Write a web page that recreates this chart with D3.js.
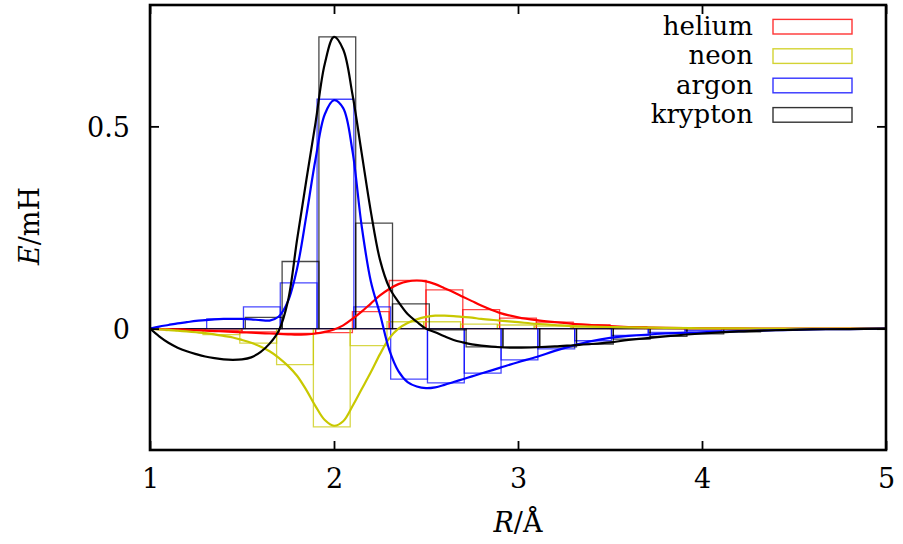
<!DOCTYPE html>
<html>
<head>
<meta charset="utf-8">
<script src="https://cdn.jsdelivr.net/npm/d3@7"></script>
<style>
  body { margin: 0; background: #fff; }
  svg text { font-family: "DejaVu Serif", serif; fill: #000; }
</style>
</head>
<body>
<svg id="chart" width="903" height="544"></svg>
<script>
// Separation R (Å) at which the smooth interaction curves are sampled
const radii = [1.00, 1.05, 1.10, 1.15, 1.20, 1.25, 1.30, 1.35, 1.40, 1.45,
               1.50, 1.55, 1.60, 1.65, 1.70, 1.75, 1.80, 1.85, 1.90, 1.95,
               2.00, 2.05, 2.10, 2.15, 2.20, 2.25, 2.30, 2.35, 2.40, 2.45,
               2.50, 2.55, 2.60, 2.65, 2.70, 2.75, 2.80, 2.90, 3.00, 3.10,
               3.20, 3.30, 3.40, 3.50, 3.60, 3.80, 4.00, 4.20, 4.40, 4.60,
               4.80, 5.00];

// Interaction energy E (mH) on the radii above
const heliumCurve = [0, -0.001, -0.002, -0.002, -0.003, -0.004, -0.005, -0.006, -0.007, -0.008,
                     -0.009, -0.010, -0.011, -0.012, -0.013, -0.014, -0.015, -0.014, -0.012, -0.008,
                     -0.002, 0.008, 0.024, 0.042, 0.062, 0.082, 0.098, 0.110, 0.117, 0.119,
                     0.117, 0.110, 0.100, 0.090, 0.079, 0.068, 0.057, 0.039, 0.028, 0.021,
                     0.016, 0.012, 0.009, 0.006, 0.004, 0.002, 0.001, 0.0005, 0, 0,
                     0, 0];
const neonCurve = [0, -0.002, -0.003, -0.005, -0.007, -0.009, -0.011, -0.014, -0.018, -0.022,
                   -0.028, -0.035, -0.044, -0.056, -0.072, -0.092, -0.117, -0.152, -0.192, -0.226,
                   -0.240, -0.229, -0.192, -0.150, -0.108, -0.063, -0.024, 0.000, 0.014, 0.023,
                   0.029, 0.032, 0.032, 0.031, 0.029, 0.027, 0.024, 0.020, 0.016, 0.012,
                   0.009, 0.006, 0.005, 0.004, 0.003, 0.002, 0.001, 0.0005, 0, 0,
                   0, 0];
const argonCurve = [0, 0.005, 0.009, 0.013, 0.016, 0.019, 0.021, 0.023, 0.024, 0.024,
                    0.024, 0.023, 0.021, 0.020, 0.030, 0.068, 0.150, 0.280, 0.420, 0.530,
                    0.565, 0.545, 0.440, 0.255, 0.117, 0.036, -0.052, -0.105, -0.132, -0.143,
                    -0.147, -0.145, -0.139, -0.132, -0.125, -0.118, -0.111, -0.097, -0.083, -0.070,
                    -0.055, -0.042, -0.031, -0.023, -0.018, -0.012, -0.009, -0.006, -0.004, -0.002,
                    -0.001, 0];
const kryptonCurve = [0, -0.019, -0.035, -0.047, -0.056, -0.063, -0.069, -0.073, -0.076, -0.077,
                      -0.076, -0.071, -0.058, -0.037, -0.005, 0.069, 0.222, 0.368, 0.510, 0.655,
                      0.721, 0.690, 0.580, 0.435, 0.290, 0.170, 0.102, 0.066, 0.036, 0.017,
                      0.000, -0.009, -0.019, -0.028, -0.034, -0.039, -0.042, -0.046, -0.047, -0.046,
                      -0.044, -0.041, -0.038, -0.034, -0.028, -0.019, -0.012, -0.007, -0.004, -0.002,
                      -0.001, 0];

// Histogram bins of width 0.2 Å, given by their centres
const binCentres = [1.2, 1.4, 1.6, 1.8, 2.0, 2.2, 2.4, 2.6, 2.8, 3.0,
                    3.2, 3.4, 3.6, 3.8, 4.0, 4.2, 4.4, 4.6, 4.8];
const binWidth = 0.2;
const heliumBins = [-0.002, -0.004, -0.008, -0.012, -0.010, 0.042, 0.119, 0.096, 0.047, 0.026,
                    0.016, 0.010, 0.005, 0.002, 0.001, 0, 0, 0, 0];
const neonBins = [-0.005, -0.015, -0.036, -0.089, -0.243, -0.042, 0.017, 0.017, 0.011, 0.009,
                  0.006, 0.004, 0.002, 0.001, 0, 0, 0, 0, 0];
const argonBins = [0, 0.024, 0.054, 0.113, 0.567, 0.054, -0.125, -0.134, -0.110, -0.077,
                   -0.050, -0.030, -0.017, -0.009, -0.005, -0.002, -0.001, 0, 0];
const kryptonBins = [0, 0, 0.028, 0.166, 0.721, 0.261, 0.061, -0.003, -0.045, -0.046,
                     -0.045, -0.038, -0.026, -0.019, -0.013, -0.008, -0.004, -0.002, -0.001];

const seriesNames = ["helium", "neon", "argon", "krypton"];
const seriesColours = ["#ff0000", "#c8c800", "#0000ff", "#000000"];
const binShift = [0, -0.012, 0.008, 0.018];   // small horizontal shift of each histogram (Å)

const xTicks = [1, 2, 3, 4, 5];
const yTicks = [0, 0.5];

const curves = [heliumCurve, neonCurve, argonCurve, kryptonCurve];
const bins = [heliumBins, neonBins, argonBins, kryptonBins];

// ---------- layout ----------
const serif = "'DejaVu Serif', serif";
const svg = d3.select("#chart");
const plotLeft = 150, plotRight = 886, plotTop = 5, plotBottom = 450;

const x = d3.scaleLinear().domain([1, 5]).range([plotLeft, plotRight]);
const y = d3.scaleLinear().domain([-0.3, 0.8]).range([plotBottom, plotTop]);

const plot = svg.append("g");
plot.append("clipPath").attr("id", "clip")
  .append("rect").attr("x", plotLeft).attr("y", plotTop)
  .attr("width", plotRight - plotLeft).attr("height", plotBottom - plotTop);
const inner = plot.append("g").attr("clip-path", "url(#clip)");

// ---------- histograms ----------
seriesNames.forEach((name, i) => {
  const shift = binShift[i];
  inner.append("g")
    .selectAll("path")
    .data(binCentres.map((c, k) => ({ c, v: bins[i][k] })))
    .join("path")
    .attr("d", d => {
      const x0 = x(d.c - binWidth / 2 + shift), x1 = x(d.c + binWidth / 2 + shift);
      const y0 = y(0), y1 = y(d.v);
      return `M${x0},${y0}V${y1}H${x1}V${y0}Z`;
    })
    .attr("fill", "none")
    .attr("stroke", seriesColours[i])
    .attr("stroke-opacity", 0.72)
    .attr("stroke-width", 1.3);
});

// ---------- smooth curves ----------
const line = d3.line()
  .x(d => x(d[0]))
  .y(d => y(d[1]))
  .curve(d3.curveCatmullRom.alpha(0.5));

seriesNames.forEach((name, i) => {
  inner.append("path")
    .datum(radii.map((r, k) => [r, curves[i][k]]))
    .attr("d", line)
    .attr("fill", "none")
    .attr("stroke", seriesColours[i])
    .attr("stroke-width", 2.2)
    .attr("stroke-linejoin", "round");
});

// ---------- axes (ticks on all four sides, pointing inwards) ----------
const tickLen = 9;
const fontSize = 27;
const axisBottom = d3.axisBottom(x).tickValues(xTicks).tickSize(-tickLen).tickFormat(d3.format("d"));
const axisTop = d3.axisTop(x).tickValues(xTicks).tickSize(-tickLen).tickFormat("");
const axisLeft = d3.axisLeft(y).tickValues(yTicks).tickSize(-tickLen).tickFormat(d => d === 0 ? "0" : d3.format(".1f")(d));
const axisRight = d3.axisRight(y).tickValues(yTicks).tickSize(-tickLen).tickFormat("");

function styleAxis(g) {
  g.attr("font-family", serif);
  g.select(".domain").remove();
  g.selectAll(".tick line").attr("stroke", "#000").attr("stroke-width", 1.8);
  g.selectAll(".tick text").attr("font-size", fontSize).style("font-family", serif).attr("fill", "#000");
}

plot.append("g").attr("transform", `translate(0,${plotBottom})`).call(axisBottom).call(styleAxis)
  .selectAll(".tick text").attr("dy", null).attr("y", 38);
plot.append("g").attr("transform", `translate(0,${plotTop})`).call(axisTop).call(styleAxis);
plot.append("g").attr("transform", `translate(${plotLeft},0)`).call(axisLeft).call(styleAxis)
  .selectAll(".tick text").attr("x", -20).attr("dy", null).attr("y", 10);
plot.append("g").attr("transform", `translate(${plotRight},0)`).call(axisRight).call(styleAxis);

// frame
plot.append("rect")
  .attr("x", plotLeft).attr("y", plotTop)
  .attr("width", plotRight - plotLeft).attr("height", plotBottom - plotTop)
  .attr("fill", "none").attr("stroke", "#000").attr("stroke-width", 2.6);

// ---------- axis titles ----------
const xTitle = svg.append("text")
  .attr("x", (plotLeft + plotRight) / 2).attr("y", 532)
  .attr("text-anchor", "middle").attr("font-size", fontSize).style("font-family", serif);
xTitle.append("tspan").attr("font-style", "italic").text("R");
xTitle.append("tspan").text("/Å");

const yTitle = svg.append("text")
  .attr("transform", "translate(39,226) rotate(-90)")
  .attr("text-anchor", "middle").attr("font-size", fontSize).style("font-family", serif);
yTitle.append("tspan").attr("font-style", "italic").text("E");
yTitle.append("tspan").text("/mH");

// ---------- legend ----------
const legend = svg.append("g");
seriesNames.forEach((name, i) => {
  const cy = 26.7 + i * 29.4;
  legend.append("text")
    .attr("x", 753).attr("y", cy + 8)
    .attr("text-anchor", "end").attr("font-size", 26).style("font-family", serif)
    .text(name);
  legend.append("rect")
    .attr("x", 773).attr("y", cy - 7.3)
    .attr("width", 79).attr("height", 14.6)
    .attr("fill", "none")
    .attr("stroke", seriesColours[i])
    .attr("stroke-opacity", 0.8)
    .attr("stroke-width", 1.4);
});
</script>
</body>
</html>
